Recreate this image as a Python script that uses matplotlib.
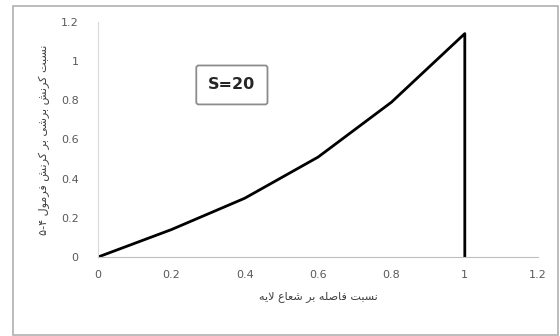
import matplotlib
matplotlib.use("Agg")
from matplotlib import pyplot as plt
from matplotlib.patches import Rectangle

# ratio of distance to layer radius vs. shear strain ratio
ratio_x = [0, 0.2, 0.4, 0.6, 0.8, 1.0, 1.0]
strain_y = [0, 0.14, 0.30, 0.51, 0.79, 1.14, 0]

x_ticks = [0, 0.2, 0.4, 0.6, 0.8, 1, 1.2]
y_ticks = [0, 0.2, 0.4, 0.6, 0.8, 1, 1.2]
tick_labels = ["0", "0.2", "0.4", "0.6", "0.8", "1", "1.2"]

x_title = "نسبت فاصله بر شعاع لایه"
y_title = "نسبت کرنش برشی بر کرنش فرمول ۴-۵"
note = "S=20"

# presentation forms: isolated, final, initial, medial
FORMS = {
    "ا": ("\uFE8D", "\uFE8E", None, None),
    "ب": ("\uFE8F", "\uFE90", "\uFE91", "\uFE92"),
    "ت": ("\uFE95", "\uFE96", "\uFE97", "\uFE98"),
    "س": ("\uFEB1", "\uFEB2", "\uFEB3", "\uFEB4"),
    "ش": ("\uFEB5", "\uFEB6", "\uFEB7", "\uFEB8"),
    "ص": ("\uFEB9", "\uFEBA", "\uFEBB", "\uFEBC"),
    "ع": ("\uFEC9", "\uFECA", "\uFECB", "\uFECC"),
    "ف": ("\uFED1", "\uFED2", "\uFED3", "\uFED4"),
    "ل": ("\uFEDD", "\uFEDE", "\uFEDF", "\uFEE0"),
    "م": ("\uFEE1", "\uFEE2", "\uFEE3", "\uFEE4"),
    "ن": ("\uFEE5", "\uFEE6", "\uFEE7", "\uFEE8"),
    "ه": ("\uFEE9", "\uFEEA", "\uFEEB", "\uFEEC"),
    "و": ("\uFEED", "\uFEEE", None, None),
    "ر": ("\uFEAD", "\uFEAE", None, None),
    "ک": ("\uFB8E", "\uFB8F", "\uFB90", "\uFB91"),
    "ی": ("\uFBFC", "\uFBFD", "\uFBFE", "\uFBFF"),
}


def dual(c):
    return c in FORMS and FORMS[c][2] is not None


def shape(text):
    # join letters into contextual forms, then lay out right-to-left
    text = text.replace("لا", "\uE000")
    out = []
    for i, c in enumerate(text):
        prev = text[i - 1] if i > 0 else " "
        nxt = text[i + 1] if i + 1 < len(text) else " "
        joins_prev = dual(prev) and (c in FORMS or c == "\uE000")
        if c == "\uE000":
            out.append("\uFEFC" if joins_prev else "\uFEFB")
            continue
        if c not in FORMS:
            out.append(c)
            continue
        joins_next = dual(c) and (nxt in FORMS or nxt == "\uE000")
        iso, fin, ini, med = FORMS[c]
        if joins_prev and joins_next:
            out.append(med)
        elif joins_prev:
            out.append(fin)
        elif joins_next:
            out.append(ini)
        else:
            out.append(iso)
    return "".join(reversed(out))


plt.rcParams["font.family"] = ["DejaVu Sans"]

fig = plt.figure(figsize=(5.6, 3.36), dpi=100, facecolor="white")
fig.patches.append(Rectangle((0.023, 0.003), 0.973, 0.978, transform=fig.transFigure,
                             fill=False, edgecolor="#b0b0b0", lw=1.2))
ax = fig.add_axes([0.175, 0.235, 0.786, 0.7])

ax.plot(ratio_x, strain_y, color="black", lw=2)

ax.set_xlim(0, 1.2)
ax.set_ylim(0, 1.2)
ax.set_xticks(x_ticks)
ax.set_yticks(y_ticks)
ax.set_xticklabels(tick_labels)
ax.set_yticklabels(tick_labels)
ax.tick_params(length=0, labelsize=8, colors="#595959", pad=9)
ax.tick_params(axis="y", pad=14)

for s in ["top", "right"]:
    ax.spines[s].set_visible(False)
ax.spines["left"].set_color("#d9d9d9")
ax.spines["bottom"].set_color("#bfbfbf")

ax.set_xlabel(shape(x_title), fontsize=8, color="#404040", labelpad=8)
ax.set_ylabel(shape(y_title), fontsize=8, color="#404040", labelpad=8)

ax.text(0.365, 0.878, note, fontsize=11.5, fontweight="bold", ha="center", va="center",
        color="#262626",
        bbox=dict(boxstyle="round,pad=0.75,rounding_size=0.15", facecolor="white",
                  edgecolor="#8c8c8c", lw=1.3))

fig.savefig("out.png", dpi=100)
